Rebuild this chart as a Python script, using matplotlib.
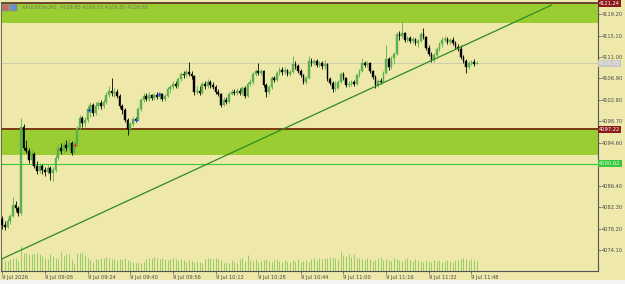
import numpy as np
import matplotlib
matplotlib.use("Agg")
import matplotlib.pyplot as plt
from matplotlib.patches import Rectangle

# ---------------- data ----------------
opens = [
4080.0,4079.0,4078.6,4079.6,4080.6,4082.8,4082.2,4081.2,4097.6,4093.6,
4093.0,4091.4,4092.4,4090.2,4089.2,4090.2,4089.4,4089.0,4089.8,4088.8,
4089.4,4091.8,4093.6,4093.0,4094.2,4093.6,4094.6,4092.6,4094.4,4097.4,
4099.4,4098.4,4099.0,4101.0,4101.8,4100.4,4101.6,4102.2,4101.6,4102.4,
4103.8,4104.6,4104.2,4104.4,4103.6,4101.6,4100.8,4099.0,4097.2,4098.2,
4099.2,4099.0,4101.0,4102.8,4103.6,4103.0,4103.8,4103.2,4103.8,4103.4,
4103.9,4102.9,4103.6,4104.8,4105.2,4105.8,4105.4,4106.8,4107.8,4107.6,
4108.2,4107.8,4107.4,4104.4,4104.6,4104.2,4105.8,4105.4,4106.2,4105.6,
4105.2,4104.4,4104.0,4101.8,4102.8,4102.4,4104.0,4104.4,4104.2,4104.6,
4104.2,4105.0,4103.6,4105.8,4106.2,4107.8,4108.4,4108.0,4108.4,4105.6,
4104.4,4105.2,4107.0,4106.6,4108.0,4108.6,4108.2,4108.6,4107.8,4108.2,
4109.6,4109.2,4108.4,4107.6,4106.2,4107.0,4110.2,4109.8,4110.2,4109.4,
4109.8,4109.2,4109.6,4106.8,4106.0,4104.8,4105.0,4106.2,4107.8,4107.0,
4105.6,4105.8,4106.2,4105.8,4107.6,4108.4,4109.8,4109.4,4109.8,4108.4,
4107.2,4105.6,4106.4,4106.2,4108.0,4110.6,4109.0,4110.8,4111.6,4115.4,
4115.0,4115.6,4114.2,4114.6,4114.0,4114.4,4113.6,4114.0,4115.4,4114.8,
4112.8,4111.6,4110.4,4111.4,4112.6,4113.4,4114.2,4114.4,4113.8,4114.2,
4113.6,4113.0,4112.6,4111.0,4110.2,4109.0,4109.8,4110.0,4109.6]

closes = [
4079.0,4078.6,4079.6,4080.6,4082.8,4082.2,4081.2,4097.6,4093.6,4093.0,
4091.4,4092.4,4090.2,4089.2,4090.2,4089.4,4089.0,4089.8,4088.8,4089.4,
4091.8,4093.6,4093.0,4094.2,4093.6,4094.6,4092.6,4094.4,4097.4,4099.4,
4098.4,4099.0,4101.0,4101.8,4100.4,4101.6,4102.2,4101.6,4102.4,4103.8,
4104.6,4104.2,4104.4,4103.6,4101.6,4100.8,4099.0,4097.2,4098.2,4099.2,
4099.0,4101.0,4102.8,4103.6,4103.0,4103.8,4103.2,4103.8,4103.4,4103.9,
4102.9,4103.6,4104.8,4105.2,4105.8,4105.4,4106.8,4107.8,4107.6,4108.2,
4107.8,4107.4,4104.4,4104.6,4104.2,4105.8,4105.4,4106.2,4105.6,4105.2,
4104.4,4104.0,4101.8,4102.8,4102.4,4104.0,4104.4,4104.2,4104.6,4104.2,
4105.0,4103.6,4105.8,4106.2,4107.8,4108.4,4108.0,4108.4,4105.6,4104.4,
4105.2,4107.0,4106.6,4108.0,4108.6,4108.2,4108.6,4107.8,4108.2,4109.6,
4109.2,4108.4,4107.6,4106.2,4107.0,4110.2,4109.8,4110.2,4109.4,4109.8,
4109.2,4109.6,4106.8,4106.0,4104.8,4105.0,4106.2,4107.8,4107.0,4105.6,
4105.8,4106.2,4105.8,4107.6,4108.4,4109.8,4109.4,4109.8,4108.4,4107.2,
4105.6,4106.4,4106.2,4108.0,4110.6,4109.0,4110.8,4111.6,4115.4,4115.0,
4115.6,4114.2,4114.6,4114.0,4114.4,4113.6,4114.0,4115.4,4114.8,4112.8,
4111.6,4110.4,4111.4,4112.6,4113.4,4114.2,4114.4,4113.8,4114.2,4113.6,
4113.0,4112.6,4111.0,4110.2,4109.0,4109.8,4110.0,4109.6,4109.9]

highs = [
4080.6,4079.6,4080.2,4081.0,4084.2,4083.6,4082.6,4099.4,4098.2,4095.2,
4093.6,4093.2,4092.8,4091.2,4090.8,4090.6,4090.0,4090.4,4090.2,4090.0,
4092.2,4094.4,4094.6,4094.8,4095.2,4095.4,4095.0,4095.0,4097.8,4100.0,
4099.8,4099.6,4101.6,4102.4,4102.2,4102.4,4102.6,4102.8,4103.0,4104.4,
4105.4,4107.0,4105.0,4104.8,4104.0,4102.0,4101.2,4099.4,4098.6,4099.6,
4099.6,4101.4,4103.2,4104.2,4104.2,4104.4,4104.0,4104.2,4104.4,4104.4,
4104.2,4104.0,4105.2,4105.6,4106.4,4106.4,4107.2,4108.2,4108.4,4108.8,
4110.0,4108.4,4107.6,4105.4,4105.4,4106.2,4106.4,4106.8,4106.6,4106.2,
4105.6,4104.8,4104.2,4103.4,4103.4,4104.4,4104.8,4104.8,4105.0,4105.0,
4105.4,4105.4,4106.2,4106.8,4108.2,4108.8,4109.8,4108.8,4108.6,4106.0,
4105.6,4107.4,4107.4,4108.4,4109.0,4109.0,4109.0,4108.8,4108.6,4111.2,
4110.2,4109.6,4108.8,4107.8,4107.4,4111.2,4110.8,4110.6,4110.6,4110.2,
4110.2,4110.4,4109.8,4107.2,4106.4,4106.4,4106.6,4108.2,4108.2,4107.2,
4106.4,4106.6,4106.6,4108.0,4108.8,4110.8,4110.2,4110.2,4110.0,4108.6,
4107.6,4106.8,4107.0,4108.4,4113.2,4111.0,4111.2,4112.0,4115.8,4116.0,
4117.8,4115.8,4115.0,4115.0,4114.8,4114.6,4114.4,4115.8,4116.6,4115.0,
4113.2,4112.0,4111.8,4113.0,4113.8,4114.8,4115.0,4114.8,4114.6,4114.8,
4114.0,4113.4,4113.2,4111.4,4110.6,4110.2,4110.4,4110.6,4110.2]

lows = [
4078.2,4077.9,4078.3,4079.2,4080.4,4081.6,4080.6,4080.9,4093.2,4092.6,
4090.8,4090.4,4089.8,4088.6,4088.8,4088.6,4088.2,4088.6,4087.6,4087.4,
4089.0,4091.4,4092.4,4092.6,4093.0,4093.2,4092.2,4092.4,4094.0,4097.0,
4097.6,4097.6,4098.6,4099.6,4099.8,4100.0,4101.0,4101.0,4101.2,4102.0,
4103.4,4103.6,4103.4,4103.2,4101.2,4100.2,4098.6,4096.2,4096.6,4097.8,
4098.6,4098.8,4100.6,4102.4,4102.6,4102.6,4102.8,4102.8,4103.0,4103.0,
4102.6,4102.6,4103.4,4104.2,4104.8,4105.0,4105.0,4106.4,4107.0,4107.2,
4107.4,4106.8,4103.8,4104.0,4103.8,4104.0,4104.8,4105.0,4105.0,4104.8,
4104.0,4103.6,4101.4,4101.6,4102.0,4102.2,4103.8,4103.8,4103.8,4103.8,
4103.8,4103.2,4103.4,4105.4,4105.8,4107.4,4107.6,4107.6,4105.2,4103.4,
4104.0,4104.8,4106.2,4106.4,4107.6,4107.6,4107.8,4107.4,4107.4,4108.0,
4108.8,4108.0,4107.2,4105.9,4105.8,4106.8,4109.2,4109.4,4109.0,4109.0,
4108.8,4108.8,4106.4,4105.6,4104.4,4104.6,4104.8,4106.0,4106.6,4105.2,
4105.2,4105.4,4105.4,4105.6,4107.2,4108.2,4109.0,4109.0,4108.0,4106.8,
4105.1,4105.2,4105.8,4106.0,4107.8,4108.6,4108.8,4109.6,4111.4,4114.2,
4114.6,4113.8,4113.8,4113.6,4113.6,4113.2,4113.0,4113.8,4114.4,4112.4,
4111.2,4110.0,4110.0,4111.2,4112.2,4113.0,4113.8,4113.4,4113.4,4113.2,
4112.6,4112.2,4110.6,4109.8,4107.9,4108.8,4109.4,4109.2,4109.6]

volumes = [
133,100,100,117,133,133,100,250,183,183,167,167,167,183,167,150,
133,117,167,150,133,117,193,150,173,173,117,83,183,183,193,160,
127,107,93,117,117,127,133,140,127,117,117,107,117,117,127,107,
100,93,83,93,83,93,117,127,133,140,133,117,127,117,107,117,
127,117,107,117,107,93,107,100,93,100,93,83,117,133,127,117,
127,117,107,83,93,83,107,93,83,117,127,100,160,110,100,117,
93,100,107,117,100,93,107,117,100,90,110,100,93,107,100,117,
90,100,107,93,117,127,107,133,117,127,133,140,127,133,117,200,
160,150,167,140,173,133,127,117,107,133,117,100,107,127,140,110,
117,107,100,127,117,107,100,117,127,107,100,117,107,100,93,107,
100,93,110,100,107,93,100,107,100,93,107,110,117,127,117,110,
117,110,100]

time_labels = ["9 Jul 2026", "9 Jul 09:08", "9 Jul 09:24", "9 Jul 09:40",
               "9 Jul 09:56", "9 Jul 10:12", "9 Jul 10:28", "9 Jul 10:44",
               "9 Jul 11:00", "9 Jul 11:16", "9 Jul 11:32", "9 Jul 11:48"]
time_label_bars = [0, 16, 32, 48, 64, 80, 96, 112, 128, 144, 160, 176]

price_ticks = [4119.20, 4115.10, 4111.00, 4106.90, 4102.80, 4098.70,
               4094.60, 4086.40, 4082.30, 4078.20, 4074.10]

resistance_line = 4121.24
resistance_zone = (4117.4, 4121.24)
support_line = 4097.22
support_zone = (4092.3, 4097.22)
green_line = 4090.62
bid_price = 4109.85
trend_bars = [0, 206]
trend_prices = [4072.5, 4120.9]

buy_marks_bars = [32.6, 50, 58.9]
buy_marks_prices = [4100.9, 4099.0, 4103.9]
sell_marks_bars = [27.2]
sell_marks_prices = [4094.2]

title_text = "XAUUSDm,M1  4109.85 4109.93 4109.80 4109.88"

# ---------------- style ----------------
BG = "#EEE8AA"
ZONE = "#9ACD32"
BROWN = "#7A3A10"
BULL = "#56B24A"
BEAR = "#000000"
VOLC = "#86C95A"
AXC = "#555555"
TXT = "#4a4a4a"
FS = 3.7

W, H = 625, 284
fig = plt.figure(figsize=(W / 100, H / 100), dpi=100, facecolor=BG)
ax = fig.add_axes([1 / W, 13 / H, 597 / W, 269 / H])
ax.set_facecolor(BG)

x = np.arange(len(closes))
o = np.array(opens); c = np.array(closes)
hi = np.array(highs); lo = np.array(lows)

ax.set_xlim(-0.49, 223.5)
ax.set_ylim(4070.15, 4121.5)

# zones and lines
ax.axhspan(resistance_zone[0], resistance_zone[1], color=ZONE, lw=0, zorder=1)
ax.axhspan(support_zone[0], support_zone[1], color=ZONE, lw=0, zorder=1)
ax.axhline(resistance_line, color=BROWN, lw=1.4, zorder=2)
ax.axhline(support_line, color=BROWN, lw=1.4, zorder=2)
ax.axhline(green_line, color="#3CC83C", lw=0.8, zorder=2)
ax.axhline(bid_price, color="#C8C8B4", lw=0.6, zorder=2)

# volume on twin axis
axv = ax.twinx()
axv.set_ylim(0, 2690)
axv.vlines(x, 0, volumes, color=VOLC, lw=0.6, zorder=1)
axv.set_yticks([])
axv.set_zorder(ax.get_zorder() + 1)
axv.patch.set_visible(False)
for s in axv.spines.values():
    s.set_visible(False)

# candles on top axis
axc = ax.twinx()
axc.set_ylim(ax.get_ylim())
axc.set_zorder(axv.get_zorder() + 1)
axc.patch.set_visible(False)
axc.set_yticks([])
for s in axc.spines.values():
    s.set_visible(False)

up = c >= o
colors = np.where(up, BULL, BEAR)
axc.vlines(x, lo, hi, colors=colors, lw=0.6, zorder=3)
body_bottom = np.minimum(o, c)
body_h = np.maximum(np.abs(c - o), 0.12)
axc.bar(x, body_h, bottom=body_bottom, width=0.62, color=colors,
        edgecolor=colors, lw=0.3, zorder=4)

# trend line
axc.plot(trend_bars, trend_prices, color="#2E8B22", lw=0.9, zorder=5)

# trade marks
axc.plot(buy_marks_bars, buy_marks_prices, ls="none", marker="+",
         ms=3, mew=0.8, color="#2050D0", zorder=6)
axc.plot(sell_marks_bars, sell_marks_prices, ls="none", marker="+",
         ms=3, mew=0.8, color="#E04020", zorder=6)

# axes styling
for s in ["top", "left"]:
    ax.spines[s].set_color(AXC)
    ax.spines[s].set_linewidth(0.6)
for s in ["right", "bottom"]:
    ax.spines[s].set_color(AXC)
    ax.spines[s].set_linewidth(0.8)

ax.yaxis.tick_right()
ax.set_yticks(price_ticks)
ax.set_yticklabels([f"{p:.2f}" for p in price_ticks])
ax.tick_params(axis="y", direction="out", length=2.0, width=0.5, colors=AXC,
               labelsize=FS, pad=0.6, labelcolor=TXT)
ax.set_xticks(time_label_bars)
ax.set_xticklabels(time_labels)
ax.tick_params(axis="x", direction="out", length=2.0, width=0.5, colors=AXC,
               labelsize=FS, pad=0.6, labelcolor=TXT)
for lab in ax.get_xticklabels():
    lab.set_ha("left")

# price label boxes on the right
ytr = ax.get_yaxis_transform()
def price_box(p, fc, tc):
    ax.text(1.002, p, f"{p:.2f}", transform=ytr, ha="left", va="center",
            fontsize=FS, color=tc, zorder=10, clip_on=False,
            bbox=dict(boxstyle="square,pad=0.2", fc=fc, ec="none"))
price_box(resistance_line, "#8B1A1A", "white")
price_box(support_line, "#8B1A1A", "white")
price_box(green_line, "#3CC83C", "#DDFFDD")
price_box(bid_price, "#C8C8C8", "#F4F4F4")

# title / icons
fig.patches.append(Rectangle((2 / W, 1 - 10 / H), 6 / W, 6 / H,
                             transform=fig.transFigure, fc="#E06060", ec="#888"))
fig.patches.append(Rectangle((10 / W, 1 - 10 / H), 6 / W, 6 / H,
                             transform=fig.transFigure, fc="#6090E0", ec="#888"))
fig.text(22 / W, 1 - 7 / H, title_text, fontsize=3.6, color="#777766",
         va="center", ha="left")

# bottom strip (tabs)
fig.patches.append(Rectangle((0, 0), 1, 4 / H, transform=fig.transFigure,
                             fc="#F4F4F4", ec="none"))

fig.savefig("out.png", dpi=100, facecolor=BG)
